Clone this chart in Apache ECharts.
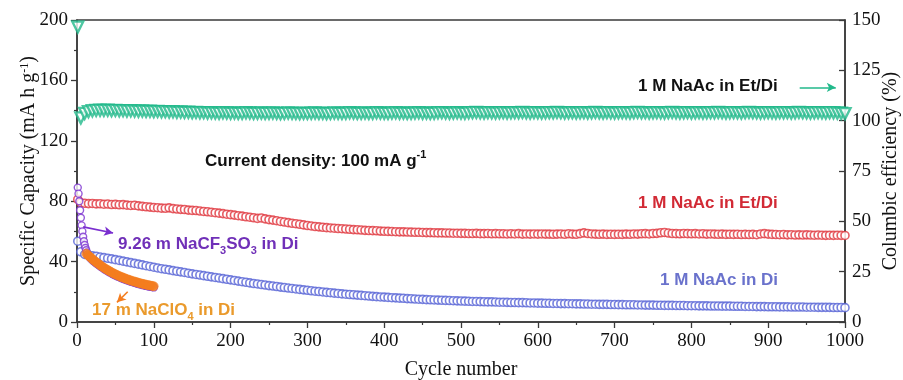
<!DOCTYPE html>
<html>
<head>
<meta charset="utf-8">
<script src="https://cdn.jsdelivr.net/npm/echarts@6/dist/echarts.min.js"></script>
<style>
  html, body { margin: 0; padding: 0; background: #fff; }
  #chart { width: 903px; height: 380px; }
</style>
</head>
<body>
<div id="chart"></div>
<script>
// Cycle numbers for the long runs: cycle 1, then every 5th cycle up to 1000
const longCycles = [1];
for (let c = 5; c <= 1000; c += 5) longCycles.push(c);

// 1 M NaAc in Et/Di — specific capacity (mA h g-1)
const capEtDi = [
  81.2,
  78.9, 78.6, 78.4, 78.5, 78.2, 78.3, 78.0, 78.1, 77.8, 77.9,
  77.6, 77.7, 77.4, 77.2, 77.3, 76.9, 76.6, 76.3, 76.1, 75.8,
  75.7, 75.4, 75.3, 75.6, 75.1, 74.8, 74.6, 74.5, 74.1, 73.9,
  73.8, 73.5, 73.2, 73.0, 72.7, 72.4, 72.1, 71.8, 71.4, 71.1,
  70.8, 70.4, 70.1, 69.7, 69.4, 69.0, 68.6, 68.9, 68.3, 67.8,
  67.5, 67.1, 66.6, 66.2, 65.8, 65.4, 65.1, 64.7, 64.3, 63.9,
  63.6, 63.2, 63.0, 62.7, 62.5, 62.3, 62.1, 61.9, 61.8, 61.6,
  61.4, 61.2, 61.1, 60.9, 60.7, 60.6, 60.5, 60.4, 60.2, 60.1,
  60.0, 59.9, 59.8, 59.7, 59.7, 59.6, 59.5, 59.4, 59.4, 59.3,
  59.2, 59.2, 59.1, 59.0, 59.0, 58.9, 58.9, 58.8, 58.8, 58.7,
  58.7, 58.6, 58.6, 58.7, 58.5, 58.5, 58.6, 58.4, 58.5, 58.4,
  58.4, 58.3, 58.4, 58.3, 58.5, 58.2, 58.3, 58.2, 58.3, 58.2,
  58.3, 58.2, 58.2, 58.1, 58.2, 58.3, 58.1, 58.4, 58.2, 58.1,
  58.5, 59.0, 58.6, 58.3, 58.2, 58.1, 58.2, 58.0, 58.1, 58.0,
  58.1, 58.0, 58.2, 58.1, 58.3, 58.2, 58.4, 58.5, 58.3, 58.6,
  58.7, 59.1, 59.3, 58.9, 58.6, 58.5, 58.4, 58.6, 58.5, 58.4,
  58.5, 58.3, 58.4, 58.2, 58.3, 58.2, 58.1, 58.2, 58.0, 58.1,
  58.0, 58.1, 57.9, 58.0, 57.9, 58.0, 57.8, 58.3, 58.5, 58.2,
  58.0, 57.9, 57.8, 57.9, 57.7, 57.8, 57.6, 57.7, 57.6, 57.7,
  57.6, 57.5, 57.6, 57.5, 57.4, 57.5, 57.4, 57.5, 57.4, 57.3
];

// 1 M NaAc in Di — specific capacity (mA h g-1)
const capDi = [
  53.5,
  46.5, 44.8, 44.2, 43.8, 43.5, 43.0, 42.6, 42.2, 41.8, 41.3,
  40.8, 40.3, 39.8, 39.3, 38.8, 38.3, 37.8, 37.3, 36.8, 36.3,
  35.8, 35.3, 34.9, 34.5, 34.0, 33.6, 33.2, 32.8, 32.3, 31.9,
  31.5, 31.1, 30.7, 30.3, 29.9, 29.5, 29.1, 28.7, 28.3, 27.9,
  27.5, 27.1, 26.7, 26.3, 25.9, 25.5, 25.2, 24.8, 24.5, 24.1,
  23.8, 23.5, 23.1, 22.8, 22.5, 22.2, 21.9, 21.6, 21.3, 21.0,
  20.7, 20.4, 20.2, 19.9, 19.6, 19.4, 19.1, 18.9, 18.6, 18.4,
  18.2, 18.0, 17.8, 17.6, 17.4, 17.2, 17.0, 16.8, 16.6, 16.5,
  16.3, 16.1, 16.0, 15.8, 15.7, 15.5, 15.4, 15.2, 15.1, 15.0,
  14.8, 14.7, 14.6, 14.5, 14.4, 14.3, 14.2, 14.1, 14.0, 13.9,
  13.8, 13.7, 13.6, 13.6, 13.5, 13.4, 13.3, 13.3, 13.2, 13.1,
  13.1, 13.0, 12.9, 12.9, 12.8, 12.8, 12.7, 12.6, 12.6, 12.5,
  12.5, 12.4, 12.4, 12.3, 12.3, 12.2, 12.2, 12.1, 12.1, 12.0,
  12.0, 11.9, 11.9, 11.8, 11.8, 11.7, 11.7, 11.7, 11.6, 11.6,
  11.5, 11.5, 11.4, 11.4, 11.4, 11.3, 11.3, 11.2, 11.2, 11.2,
  11.1, 11.1, 11.0, 11.0, 11.0, 10.9, 10.9, 10.9, 10.8, 10.8,
  10.8, 10.7, 10.7, 10.7, 10.6, 10.6, 10.6, 10.5, 10.5, 10.5,
  10.4, 10.4, 10.4, 10.3, 10.3, 10.3, 10.2, 10.2, 10.2, 10.1,
  10.1, 10.1, 10.0, 10.0, 10.0, 9.9, 9.9, 9.9, 9.9, 9.8,
  9.8, 9.8, 9.7, 9.7, 9.7, 9.7, 9.6, 9.6, 9.6, 9.5
];

// 1 M NaAc in Et/Di — coulombic efficiency (%)
const ceEtDi = [
  146.5,
  101.4, 103.6, 104.5, 104.9, 105.1, 105.2, 105.1, 105.2, 105.0, 105.1,
  104.9, 105.0, 104.8, 104.9, 104.8, 104.7, 104.8, 104.6, 104.7, 104.5,
  104.6, 104.4, 104.5, 104.3, 104.4, 104.2, 104.3, 104.1, 104.2, 104.0,
  104.1, 103.9, 104.0, 103.8, 103.9, 103.8, 103.7, 103.9, 103.8, 103.7,
  103.8, 103.6, 103.7, 103.9, 103.8, 103.6, 103.7, 103.8, 103.6, 103.7,
  103.8, 103.7, 103.5, 103.6, 103.8, 103.7, 103.6, 103.5, 103.7, 103.6,
  103.7, 103.8, 103.6, 103.7, 103.5, 103.6, 103.8, 103.7, 103.6, 103.7,
  103.9, 103.8, 103.6, 103.7, 103.8, 103.6, 103.7, 103.9, 103.8, 103.7,
  103.6, 103.8, 103.9, 103.7, 103.8, 103.6, 103.7, 103.8, 103.9, 103.7,
  103.8, 103.6, 103.7, 103.9, 104.0, 103.8, 103.7, 103.8, 103.9, 103.8,
  103.7, 103.9, 104.0, 104.1, 103.9, 103.8, 104.0, 103.9, 103.8, 103.9,
  104.0, 103.8, 103.9, 104.0, 103.9, 104.1, 103.9, 103.8, 104.0, 103.9,
  103.8, 103.9, 104.0, 103.9, 104.1, 104.0, 103.8, 103.9, 104.0, 103.8,
  103.9, 104.0, 103.8, 103.9, 104.1, 103.9, 103.8, 104.0, 103.9, 103.8,
  103.9, 104.0, 103.9, 103.8, 104.0, 104.1, 103.9, 104.0, 103.8, 103.9,
  104.0, 103.9, 103.8, 104.0, 104.1, 103.9, 103.8, 103.9, 104.0, 103.8,
  103.9, 104.0, 103.8, 103.9, 104.0, 103.9, 104.1, 104.0, 103.8, 103.9,
  104.0, 103.9, 103.8, 104.0, 104.1, 104.0, 103.9, 103.8, 103.9, 104.0,
  103.9, 103.8, 104.0, 103.9, 104.0, 103.8, 103.9, 104.1, 104.0, 103.9,
  103.8, 103.9, 104.0, 103.9, 103.8, 104.0, 103.9, 103.8, 103.7, 103.5
];

// 9.26 m NaCF3SO3 in Di — first 100 cycles
const cfCycles = [1, 2, 3, 4, 5, 6, 7, 8, 9, 10, 11, 12, 13, 14, 15, 16,
  18, 20, 22, 24, 26, 28, 30, 32, 34, 36, 38, 40, 42, 44, 46, 48, 50,
  52, 54, 56, 58, 60, 62, 64, 66, 68, 70, 72, 74, 76, 78, 80, 82, 84,
  86, 88, 90, 92, 94, 96, 98, 100];
const capCF = [89.0, 85.0, 80.0, 74.0, 69.0, 64.0, 60.0, 56.5, 53.5, 51.0,
  49.0, 47.5, 46.0, 44.8, 43.8, 43.0,
  41.8, 40.9, 40.0, 39.2, 38.4, 37.7, 36.9, 36.2, 35.5, 34.8, 34.2, 33.6,
  33.0, 32.4, 31.8, 31.3, 30.8, 30.3, 29.9, 29.4, 29.0, 28.6, 28.2, 27.8,
  27.4, 27.1, 26.7, 26.4, 26.1, 25.8, 25.5, 25.2, 24.9, 24.7, 24.4, 24.2,
  23.9, 23.7, 23.5, 23.3, 23.1, 22.9];

// 17 m NaClO4 in Di — cycles 12 to 100
const clo4Cycles = [12, 14, 16, 18, 20, 22, 24, 26, 28,
  30, 32, 34, 36, 38, 40, 42, 44, 46, 48, 50, 52, 54, 56, 58, 60, 62, 64,
  66, 68, 70, 72, 74, 76, 78, 80, 82, 84, 86, 88, 90, 92, 94, 96, 98, 100];
const capClO4 = [45.3, 44.4, 43.5, 42.6,
  41.7, 40.8, 40.0, 39.2, 38.5, 37.7, 37.0, 36.3, 35.6, 35.0, 34.4, 33.8,
  33.2, 32.6, 32.1, 31.6, 31.1, 30.7, 30.2, 29.8, 29.4, 29.0, 28.6, 28.2,
  27.9, 27.5, 27.2, 26.9, 26.6, 26.3, 26.0, 25.7, 25.5, 25.2, 25.0, 24.7,
  24.5, 24.3, 24.1, 23.9, 23.7];

const xTicks = { min: 0, max: 1000, interval: 100 };
const capTicks = { min: 0, max: 200, interval: 40 };
const ceTicks = { min: 0, max: 150, interval: 25 };

const COL = {
  green: '#22b98b',
  red: '#e0363d',
  blue: '#5663d6',
  purple: '#7a2fcf',
  orange: '#f47d1f',
  axis: '#3a3a3a'
};

function pairs(xs, ys) { return xs.map((x, i) => [x, ys[i]]); }

const serif = '"Liberation Serif", "Times New Roman", serif';
const sans = '"Liberation Sans", Arial, sans-serif';

const axisCommon = {
  nameMoveOverlap: false,
  axisLine: { show: true, lineStyle: { color: COL.axis, width: 1.5 } },
  axisTick: { show: true, inside: false, length: 6, lineStyle: { color: COL.axis, width: 1.3 } },
  minorTick: { show: true, splitNumber: 2, length: 3, lineStyle: { color: COL.axis, width: 1.2 } },
  splitLine: { show: false },
  axisLabel: { color: '#111', fontFamily: serif, fontSize: 19, formatter: v => String(v) },
  nameTextStyle: { color: '#111', fontFamily: serif, fontSize: 20 }
};

const chart = echarts.init(document.getElementById('chart'), null, { renderer: 'canvas' });

const arrowLine = (from, to, color) => ({
  silent: true,
  symbol: ['none', 'arrow'],
  symbolSize: [7, 9],
  label: { show: false },
  lineStyle: { color: color, width: 1.6, type: 'solid' },
  data: [[{ coord: from }, { coord: to }]]
});

const label = (x, y, text, color) => ({
  type: 'text',
  left: x,
  top: y,
  style: {
    text: text,
    fill: color,
    font: 'bold 17px ' + sans,
    rich: {
      sub: { fontSize: 11, fontWeight: 'bold', fontFamily: sans, fill: color, verticalAlign: 'bottom', lineHeight: 24 },
      sup: { fontSize: 11, fontWeight: 'bold', fontFamily: sans, fill: color, verticalAlign: 'top', lineHeight: 24 },
      n: { fontSize: 17, fontWeight: 'bold', fontFamily: sans, fill: color, lineHeight: 20 }
    }
  }
});

chart.setOption({
  backgroundColor: '#fff',
  animation: false,
  grid: {
    left: 77, right: 58, top: 20, bottom: 58,
    containLabel: false, outerBoundsMode: 'none',
    show: true, borderColor: COL.axis, borderWidth: 1.5, backgroundColor: 'transparent'
  },
  xAxis: Object.assign({}, axisCommon, {
    type: 'value', min: xTicks.min, max: xTicks.max, interval: xTicks.interval,
    name: 'Cycle number', nameLocation: 'middle', nameGap: 38,
    axisLabel: Object.assign({}, axisCommon.axisLabel, { margin: 10 })
  }),
  yAxis: [
    Object.assign({}, axisCommon, {
      type: 'value', min: capTicks.min, max: capTicks.max, interval: capTicks.interval,
      name: 'Specific Capacity (mA h g{sup|-1})', nameLocation: 'middle', nameGap: 38,
      nameTextStyle: Object.assign({}, axisCommon.nameTextStyle, {
        rich: { sup: { fontFamily: serif, fontSize: 12, verticalAlign: 'top', lineHeight: 20, color: '#111' } }
      }),
      axisLabel: Object.assign({}, axisCommon.axisLabel, { margin: 9 })
    }),
    Object.assign({}, axisCommon, {
      type: 'value', position: 'right', min: ceTicks.min, max: ceTicks.max, interval: ceTicks.interval,
      name: 'Columbic efficiency (%)', nameLocation: 'middle', nameGap: 36,
      axisTick: Object.assign({}, axisCommon.axisTick, { inside: true }),
      minorTick: { show: false },
      axisLabel: Object.assign({}, axisCommon.axisLabel, { margin: 7 })
    })
  ],
  series: [
    {
      name: '1 M NaAc in Di', type: 'scatter', yAxisIndex: 0,
      data: pairs(longCycles, capDi), symbol: 'circle', symbolSize: 8,
      itemStyle: { color: '#fff', borderColor: COL.blue, borderWidth: 1.6 }, z: 2
    },
    {
      name: '1 M NaAc in Et/Di', type: 'scatter', yAxisIndex: 0,
      data: pairs(longCycles, capEtDi), symbol: 'circle', symbolSize: 8,
      itemStyle: { color: '#fff', borderColor: COL.red, borderWidth: 1.6 }, z: 2
    },
    {
      name: 'CE 1 M NaAc in Et/Di', type: 'scatter', yAxisIndex: 1,
      data: pairs(longCycles, ceEtDi), symbol: 'triangle', symbolRotate: 180, symbolSize: 11,
      itemStyle: { color: '#fff', borderColor: COL.green, borderWidth: 2.4 }, z: 2,
      markLine: arrowLine([941, 116.5], [988, 116.5], COL.green)
    },
    {
      name: '9.26 m NaCF3SO3 in Di', type: 'scatter', yAxisIndex: 0,
      data: pairs(cfCycles, capCF), symbol: 'circle', symbolSize: 7,
      itemStyle: { color: '#fff', borderColor: COL.purple, borderWidth: 1.4 }, z: 3,
      markLine: arrowLine([8, 63], [47, 59], COL.purple)
    },
    {
      name: '17 m NaClO4 in Di', type: 'scatter', yAxisIndex: 0,
      data: pairs(clo4Cycles, capClO4), symbol: 'circle', symbolSize: 9,
      itemStyle: { color: COL.orange, borderColor: COL.orange, borderWidth: 0.5 }, z: 4,
      markLine: arrowLine([66, 20], [52, 13], COL.orange)
    }
  ],
  graphic: [
    label(638, 78, '{n|1 M NaAc in Et/Di}', '#111'),
    label(205, 149, '{n|Current density: 100 mA g}{sup|-1}', '#111'),
    label(638, 195, '{n|1 M NaAc in Et/Di}', '#d22a35'),
    label(118, 236, '{n|9.26 m NaCF}{sub|3}{n|SO}{sub|3}{n| in Di}', '#7030b8'),
    label(660, 272, '{n|1 M NaAc in Di}', '#6a72cc'),
    label(92, 302, '{n|17 m NaClO}{sub|4}{n| in Di}', '#ea9a2c')
  ]
});
</script>
</body>
</html>
